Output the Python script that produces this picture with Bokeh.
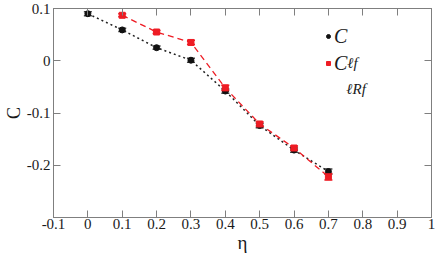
from bokeh.plotting import figure
from bokeh.models import (ColumnDataSource, Whisker, TeeHead, LinearAxis, FixedTicker,
                          CustomJSTickFormatter, Legend, LegendItem, Label, Range1d)
from bokeh.embed import file_html
from bokeh.resources import INLINE

# ---- data ----
eta = [0.0, 0.1, 0.2, 0.3, 0.4, 0.5, 0.6, 0.7]
c_lf = [0.090, 0.059, 0.025, 0.001, -0.058, -0.124, -0.171, -0.212]
c_lf_err = [0.004, 0.003, 0.003, 0.004, 0.004, 0.004, 0.004, 0.005]

eta_r = [0.1, 0.2, 0.3, 0.4, 0.5, 0.6, 0.7]
c_lrf = [0.087, 0.055, 0.035, -0.052, -0.121, -0.167, -0.222]
c_lrf_err = [0.003, 0.003, 0.004, 0.005, 0.004, 0.004, 0.006]

x_ticks = [-0.1, 0.0, 0.1, 0.2, 0.3, 0.4, 0.5, 0.6, 0.7, 0.8, 0.9, 1.0]
y_ticks = [-0.2, -0.1, 0.0, 0.1]

FONT = "Liberation Serif"
AX = "#7f7f7f"
RED = "#ee1c24"
TXT = "#1a1a1a"

src1 = ColumnDataSource(dict(x=eta, y=c_lf,
                             lo=[v - e for v, e in zip(c_lf, c_lf_err)],
                             hi=[v + e for v, e in zip(c_lf, c_lf_err)]))
src2 = ColumnDataSource(dict(x=eta_r, y=c_lrf,
                             lo=[v - e for v, e in zip(c_lrf, c_lrf_err)],
                             hi=[v + e for v, e in zip(c_lrf, c_lrf_err)]))

p = figure(width=436, height=256, output_backend="svg", toolbar_location=None,
           x_range=Range1d(-0.1, 1.0), y_range=Range1d(-0.3, 0.1),
           min_border_left=49, min_border_right=5, min_border_top=8, min_border_bottom=39)
p.grid.visible = False
p.outline_line_color = AX
p.background_fill_color = "white"
p.border_fill_color = "white"

fmt = CustomJSTickFormatter(code="return (Math.round(tick*10)/10).toString();")
blank = CustomJSTickFormatter(code="return '';")

def style(ax, ticks, labels=True):
    ax.ticker = FixedTicker(ticks=ticks)
    ax.formatter = fmt if labels else blank
    ax.axis_line_color = AX
    ax.major_tick_line_color = AX
    ax.major_tick_in = 7
    ax.major_tick_out = 0
    ax.minor_tick_line_color = None
    ax.major_label_text_font = FONT
    ax.major_label_text_font_size = "15px"
    ax.major_label_text_color = TXT
    ax.major_label_standoff = 3 if labels else 0

style(p.xaxis[0], x_ticks)
style(p.yaxis[0], y_ticks)
p.xaxis[0].major_label_standoff = 1

p.xaxis.axis_label = "η"
p.yaxis.axis_label = "C"
for ax in (p.xaxis[0], p.yaxis[0]):
    ax.axis_label_text_font = FONT
    ax.axis_label_text_font_style = "normal"
    ax.axis_label_text_color = TXT
    ax.axis_label_standoff = 0
p.xaxis[0].axis_label_text_font_size = "19px"
p.yaxis[0].axis_label_text_font_size = "18px"

top = LinearAxis()
style(top, x_ticks, labels=False)
p.add_layout(top, "above")
right = LinearAxis()
style(right, y_ticks, labels=False)
p.add_layout(right, "right")

# lines
p.line("x", "y", source=src1, line_color="#222222", line_width=1.5, line_dash="2 3")
p.line("x", "y", source=src2, line_color=RED, line_width=1.3, line_dash="6 4")

# error bars and markers
w1 = Whisker(source=src1, base="x", upper="hi", lower="lo", line_color="#444444", line_width=1.5,
             upper_head=TeeHead(size=8, line_color="#444444", line_width=1.5),
             lower_head=TeeHead(size=8, line_color="#444444", line_width=1.5))
p.add_layout(w1)
r1 = p.scatter("x", "y", source=src1, marker="circle", size=6, color="#111111")

w2 = Whisker(source=src2, base="x", upper="hi", lower="lo", line_color=RED, line_width=1.5,
             upper_head=TeeHead(size=8, line_color=RED, line_width=1.5),
             lower_head=TeeHead(size=8, line_color=RED, line_width=1.5))
p.add_layout(w2)
r2 = p.scatter("x", "y", source=src2, marker="square", size=6, color=RED)

# legend
leg = Legend(items=[LegendItem(label="C", renderers=[r1]), LegendItem(label="C", renderers=[r2])],
             location=(270, 142), glyph_width=10, glyph_height=24, label_height=24,
             label_standoff=1, spacing=3, padding=0, margin=0,
             border_line_color=None, background_fill_alpha=0,
             label_text_font=FONT, label_text_font_style="italic", label_text_font_size="20px",
             label_text_color=TXT)
p.add_layout(leg)
# legend subscripts, anchored in data units so they sit beside the legend's "C"
for txt, x, y in (("ℓf", 0.755, -0.005), ("ℓRf", 0.752, -0.055)):
    p.add_layout(Label(x=x, y=y, text=txt,
                       text_font=FONT, text_font_style="italic", text_font_size="15px",
                       text_baseline="alphabetic", text_color=TXT))

open("out.html", "w").write(file_html(p, INLINE))
